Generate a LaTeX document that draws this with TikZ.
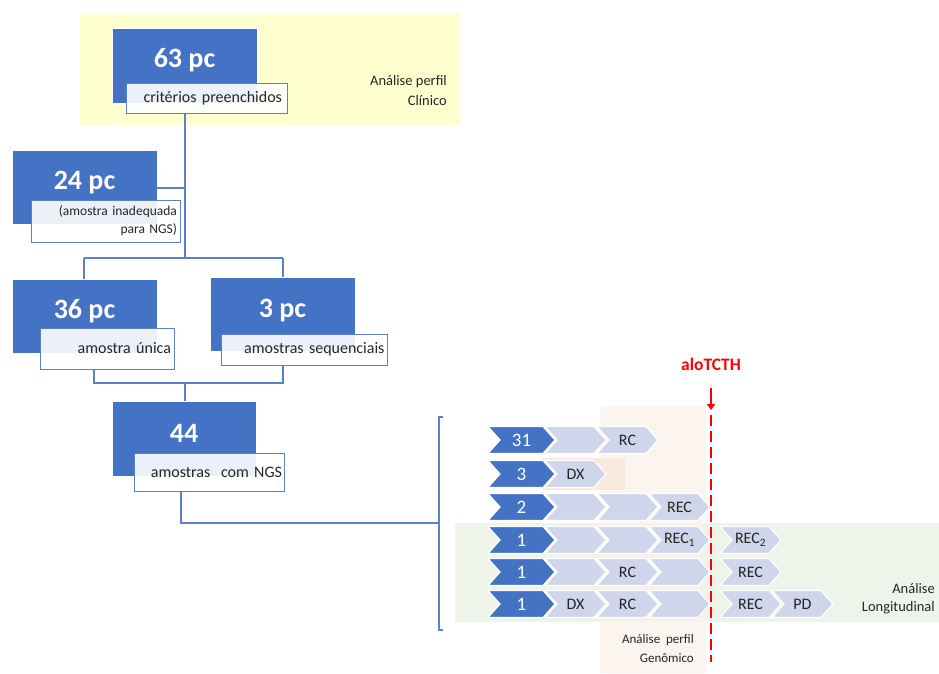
\documentclass[tikz,border=0pt]{standalone}
\usepackage{fontspec}
\setmainfont{Carlito}
\usetikzlibrary{arrows.meta}
\definecolor{mainblue}{HTML}{4472C4}
\definecolor{lineblue}{HTML}{5B82C9}
\definecolor{chevlight}{HTML}{CFD5EA}
\definecolor{bgyellow}{HTML}{FEFECF}
\definecolor{bgpeach}{HTML}{FBF1EA}
\definecolor{bgpeachdark}{HTML}{FAE9DD}
\definecolor{bggreen}{HTML}{EEF4EA}
\definecolor{textgrey}{HTML}{262626}
\definecolor{alored}{HTML}{FF0000}

% chevron: #1 left x, #2 tip x, #3 centre y, #4 fill colour
\newcommand\chevpath[4]{%
  \fill[#4, draw=white, line width=1.2pt]
    (#1,#3-13.5) -- (#2-12,#3-13.5) -- (#2,#3) -- (#2-12,#3+13.5)
    -- (#1,#3+13.5) -- (#1+12,#3) -- cycle;}

\begin{document}
\begin{tikzpicture}[x=1pt,y=-1pt,
  bluebox/.style={fill=mainblue, draw=white, line width=0.6pt, inner sep=0pt},
  bigtext/.style={text=white, font=\fontsize{28}{30}\selectfont\bfseries, inner sep=0pt},
  labbox/.style={draw=lineblue, line width=1pt, fill=white, fill opacity=0.9,
    text opacity=1, text=textgrey, inner sep=0pt, font=\fontsize{16}{18}\selectfont},
  conn/.style={draw=lineblue, line width=1.4pt},
  note/.style={text=textgrey, align=right, inner sep=0pt},
  chevnum/.style={text=white, font=\fontsize{19}{20}\selectfont, inner sep=0pt},
  chevtxt/.style={text=textgrey, font=\fontsize{16}{18}\selectfont, inner sep=0pt},
]
\path[use as bounding box] (0,0) rectangle (939,673);

% background panels
\fill[bgyellow] (80,13) rectangle (460,125);
\fill[bggreen] (455,523) rectangle (939,622);
\fill[bgpeach, opacity=0.75] (600,406) rectangle (706,673);
\fill[bgpeachdark] (543,458) rectangle (625,490);

\node[note, anchor=east, font=\fontsize{14.5}{20}\selectfont] (clin) at (447,91) {Análise perfil\\Clínico};
\node[note, anchor=east, font=\fontsize{13}{19}\selectfont] (genom) at (694,649) {Análise\ \ perfil\\Genômico};
\node[note, anchor=east, font=\fontsize{14.5}{18}\selectfont] (longit) at (935,599) {Análise\\Longitudinal};

% tree boxes
\node[bluebox, minimum width=145pt, minimum height=75pt] (b63) at (184.5,65.5) {};
\node[bigtext] (t63) at (184.5,60) {63 pc};
\node[labbox, minimum width=161pt, minimum height=30pt, text width=151pt, align=right] (l63) at (206.5,98) {critérios preenchidos};

\node[bluebox, minimum width=145pt, minimum height=74pt] (b24) at (84.5,187) {};
\node[bigtext] (t24) at (84.5,183) {24 pc};
\node[labbox, minimum width=149pt, minimum height=42pt, text width=143pt, align=right,
  font=\fontsize{13.5}{18}\selectfont] (l24) at (105.5,221) {(amostra inadequada\\para NGS)};

\node[bluebox, minimum width=145pt, minimum height=74pt] (b36) at (84.5,316) {};
\node[bigtext] (t36) at (84.5,311) {36 pc};
\node[labbox, minimum width=134pt, minimum height=41pt, text width=128pt, align=right] (l36) at (107,348.5) {amostra única};

\node[bluebox, minimum width=145pt, minimum height=74pt] (b3) at (282.5,314) {};
\node[bigtext] (t3) at (282.5,311) {3 pc};
\node[labbox, minimum width=166pt, minimum height=31pt, text width=161pt, align=right] (l3) at (304,349.5) {amostras sequenciais};

\node[bluebox, minimum width=144pt, minimum height=75pt] (b44) at (184,438.5) {};
\node[bigtext] (t44) at (184,433) {44};
\node[labbox, minimum width=150pt, minimum height=38pt, text width=146pt, align=right] (l44) at (209,472) {amostras\ \ com NGS};

% connectors of the tree
\coordinate (j1) at (185,258);
\coordinate (j24) at (185,188);
\coordinate (j36) at (84,258);
\coordinate (j3) at (283,258);
\coordinate (m36) at (94,383);
\coordinate (m3) at (283,383);
\coordinate (m44) at (185,383);
\coordinate (k44) at (181,523);
\coordinate (brk) at (439,523);
\coordinate (brtop) at (439,417);
\coordinate (brbot) at (439,630);

\draw[conn] (l63.south -| j1) -- (j1);
\draw[conn] (b24.east |- j24) -- (j24);
\draw[conn] (j36) -- (j3);
\draw[conn] (j36) -- (b36.north -| j36);
\draw[conn] (j3) -- (b3.north -| j3);
\draw[conn] (l36.south -| m36) -- (m36) -- (m3) -- (l3.south -| m3);
\draw[conn] (m44) -- (b44.north -| m44);
\draw[conn] (l44.south -| k44) -- (k44) -- (brk);
\draw[conn] ([xshift=4pt]brtop) -- (brtop) -- (brbot) -- ([xshift=4pt]brbot);

% chevron rows
\foreach \y/\n in {440/31, 474/3, 507/2, 540/1, 572/1, 604/1}{
  \chevpath{488}{555}{\y}{mainblue}
  \node[chevnum] at (521.5,\y) {\n};
}
% row 31
\chevpath{545}{606}{440}{chevlight}
\chevpath{597}{658}{440}{chevlight}
\node[chevtxt] (r1c) at (627.5,440) {RC};
% row 3
\chevpath{545}{606}{474}{chevlight}
\node[chevtxt] (r2d) at (575.5,474) {DX};
% row 2
\chevpath{545}{606}{507}{chevlight}
\chevpath{597}{658}{507}{chevlight}
\chevpath{649}{710}{507}{chevlight}
\node[chevtxt] (r3r) at (679.5,507) {REC};
% row 1, first
\chevpath{545}{606}{540}{chevlight}
\chevpath{597}{658}{540}{chevlight}
\chevpath{649}{710}{540}{chevlight}
\chevpath{720}{781}{540}{chevlight}
\node[chevtxt] (r4r) at (679.5,540) {REC\textsubscript{1}};
\node[chevtxt] (r4a) at (750.5,540) {REC\textsubscript{2}};
% row 1, second
\chevpath{545}{606}{572}{chevlight}
\chevpath{597}{658}{572}{chevlight}
\chevpath{649}{710}{572}{chevlight}
\chevpath{720}{781}{572}{chevlight}
\node[chevtxt] (r5c) at (627.5,572) {RC};
\node[chevtxt] (r5a) at (750.5,572) {REC};
% row 1, third
\chevpath{545}{606}{604}{chevlight}
\chevpath{597}{658}{604}{chevlight}
\chevpath{649}{710}{604}{chevlight}
\chevpath{720}{781}{604}{chevlight}
\chevpath{772}{833}{604}{chevlight}
\node[chevtxt] (r6d) at (575.5,604) {DX};
\node[chevtxt] (r6c) at (627.5,604) {RC};
\node[chevtxt] (r6a) at (750.5,604) {REC};
\node[chevtxt] (r6p) at (802.5,604) {PD};

% transplant marker
\node[text=alored, font=\fontsize{17.5}{18}\selectfont\bfseries, inner sep=0pt] (alo) at (711,364) {aloTCTH};
\coordinate (arrtop) at (711,388);
\coordinate (arrend) at (711,410);
\coordinate (dtop) at (711,415);
\coordinate (dbot) at (711,662);
\draw[alored, line width=2pt, -{Triangle[width=8pt,length=6pt]}] (arrtop) -- (arrend);
\draw[alored, line width=2.6pt, dash pattern=on 11pt off 5pt] (dtop) -- (dbot);
\end{tikzpicture}
\end{document}
